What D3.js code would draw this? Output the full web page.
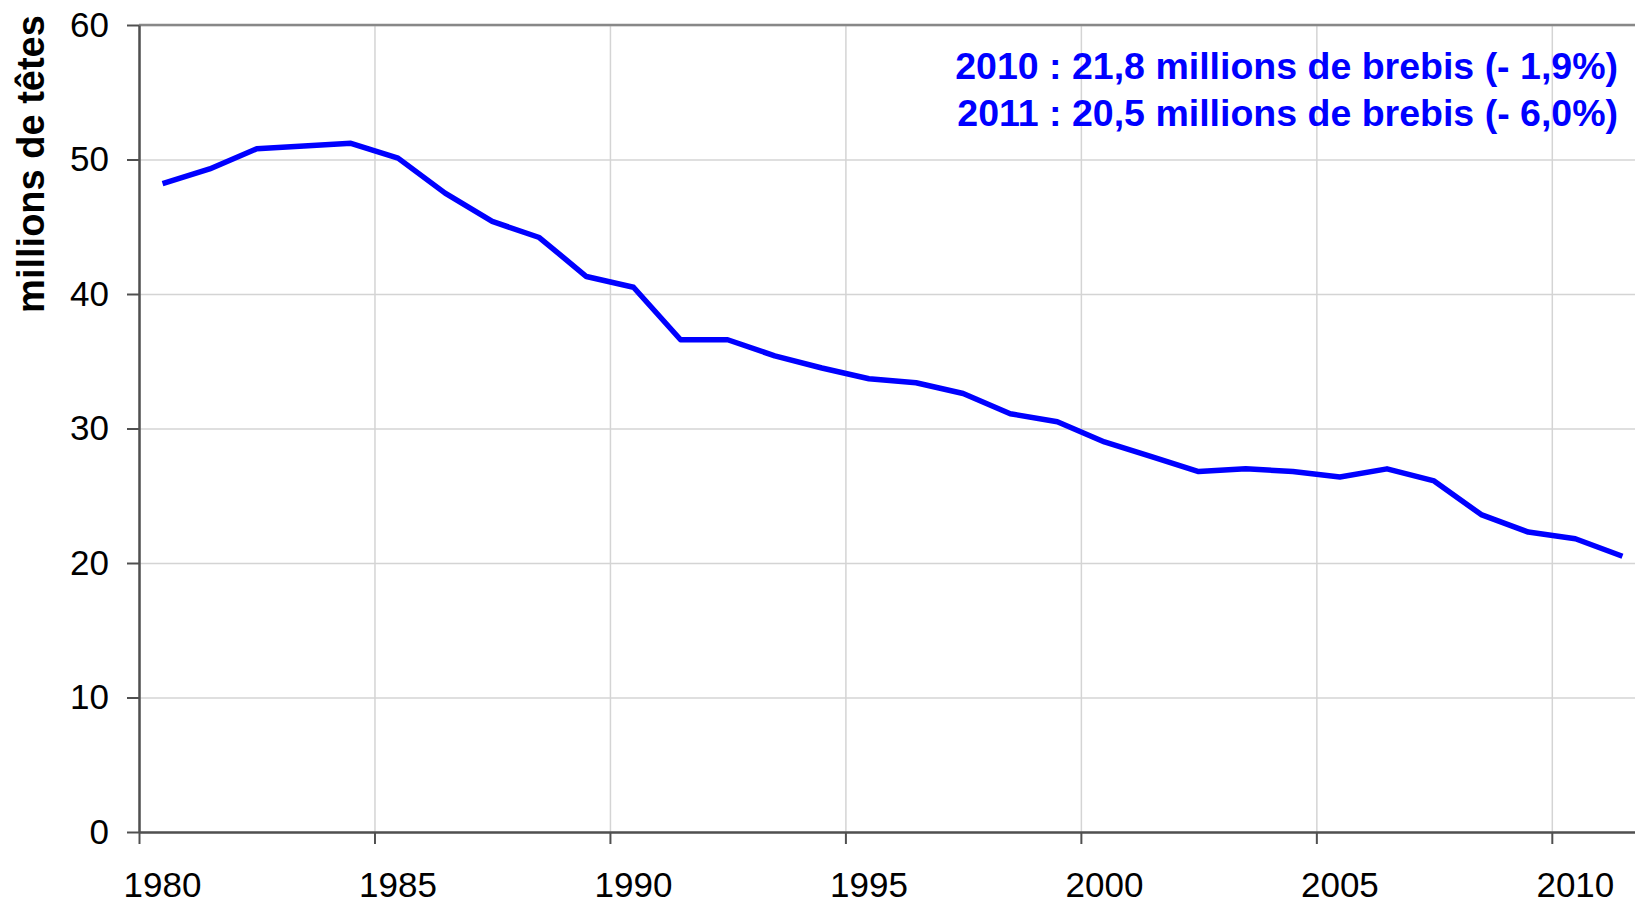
<!DOCTYPE html>
<html>
<head>
  <title>Brebis</title>
  <script src="https://d3js.org/d3.v7.min.js"></script>
  <style>
    body { margin: 0; background: #fff; }
    svg text { font-family: "Liberation Sans", Arial, sans-serif; }
    .gridlines line { stroke: #d4d4d4; stroke-width: 1.5; }
    .gridlines .domain { stroke: none; }
    .axis .domain { stroke: #505050; stroke-width: 2.5; }
    .axis line { stroke: #505050; stroke-width: 2; }
  </style>
</head>
<body>
<div id="chart"></div>
<script>
  // data (millions de brebis)
  const years = [1980, 1981, 1982, 1983, 1984, 1985, 1986, 1987, 1988, 1989,
                 1990, 1991, 1992, 1993, 1994, 1995, 1996, 1997, 1998, 1999,
                 2000, 2001, 2002, 2003, 2004, 2005, 2006, 2007, 2008, 2009,
                 2010, 2011];
  const ewes = [48.2, 49.3, 50.8, 51.0, 51.2, 50.1, 47.5, 45.4, 44.2, 41.3,
                40.5, 36.6, 36.6, 35.4, 34.5, 33.7, 33.4, 32.6, 31.1, 30.5,
                29.0, 27.9, 26.8, 27.0, 26.8, 26.4, 27.0, 26.1, 23.6, 22.3,
                21.8, 20.5];
  const yTicks = [0, 10, 20, 30, 40, 50, 60];
  const xTickYears = [1980, 1985, 1990, 1995, 2000, 2005, 2010];
  const notes = ["2010 : 21,8 millions de brebis (- 1,9%)",
                 "2011 : 20,5 millions de brebis (- 6,0%)"];

  const width = 1635;
  const height = 904;
  const margins = { top: 25, right: -11, bottom: 72, left: 139 };
  const chartWidth = width - margins.left - margins.right;
  const chartHeight = height - margins.top - margins.bottom;

  const svg = d3.select("#chart")
    .append("svg")
    .attr("width", width)
    .attr("height", height);

  const chartArea = svg.append("g")
    .attr("transform", `translate(${margins.left},${margins.top})`);

  // category axis: each year sits in the middle of its slot
  const xScale = d3.scaleLinear()
    .domain([1980, 2012])
    .range([0, chartWidth]);

  const yScale = d3.scaleLinear()
    .domain([0, 60])
    .range([chartHeight, 0]);

  // gridlines
  chartArea.append("g")
    .attr("class", "gridlines")
    .call(d3.axisLeft(yScale).tickValues(yTicks).tickSize(-chartWidth).tickFormat(""));

  chartArea.append("g")
    .attr("class", "gridlines")
    .attr("transform", `translate(0, ${chartHeight})`)
    .call(d3.axisBottom(xScale).tickValues(xTickYears).tickSize(-chartHeight).tickFormat(""));

  // top border
  chartArea.append("line")
    .attr("x1", 0).attr("x2", chartWidth)
    .attr("y1", 0).attr("y2", 0)
    .attr("stroke", "#888")
    .attr("stroke-width", 2.5);

  // y axis
  const yAxisGroup = chartArea.append("g")
    .attr("class", "axis")
    .call(d3.axisLeft(yScale).tickValues(yTicks).tickSize(12).tickSizeOuter(0).tickPadding(18));
  yAxisGroup.selectAll("text")
    .attr("font-size", 35)
    .attr("fill", "#000");

  // x axis, ticks only
  chartArea.append("g")
    .attr("class", "axis")
    .attr("transform", `translate(0, ${chartHeight})`)
    .call(d3.axisBottom(xScale).tickValues(xTickYears).tickSize(12).tickSizeOuter(0).tickFormat(""));

  // x labels centred on the year slot
  chartArea.selectAll(".xlabel")
    .data(xTickYears)
    .join("text")
    .attr("class", "xlabel")
    .attr("x", d => xScale(d + 0.5))
    .attr("y", chartHeight + 65)
    .attr("text-anchor", "middle")
    .attr("font-size", 35)
    .attr("fill", "#000")
    .text(d => d);

  // the line
  const line = d3.line()
    .x((d, i) => xScale(years[i] + 0.5))
    .y(d => yScale(d));

  chartArea.append("path")
    .datum(ewes)
    .attr("d", line)
    .attr("fill", "none")
    .attr("stroke", "#0000ff")
    .attr("stroke-width", 5.5)
    .attr("stroke-linejoin", "round");

  // y title
  svg.append("text")
    .attr("transform", "translate(44, 164) rotate(-90)")
    .attr("text-anchor", "middle")
    .attr("font-size", 38)
    .attr("font-weight", "bold")
    .attr("fill", "#000")
    .text("millions de têtes");

  // annotation
  svg.selectAll(".note")
    .data(notes)
    .join("text")
    .attr("class", "note")
    .attr("x", 1618)
    .attr("y", (d, i) => 79 + i * 47)
    .attr("text-anchor", "end")
    .attr("font-size", 37.5)
    .attr("font-weight", "bold")
    .attr("fill", "#0000ff")
    .text(d => d);
</script>
</body>
</html>
